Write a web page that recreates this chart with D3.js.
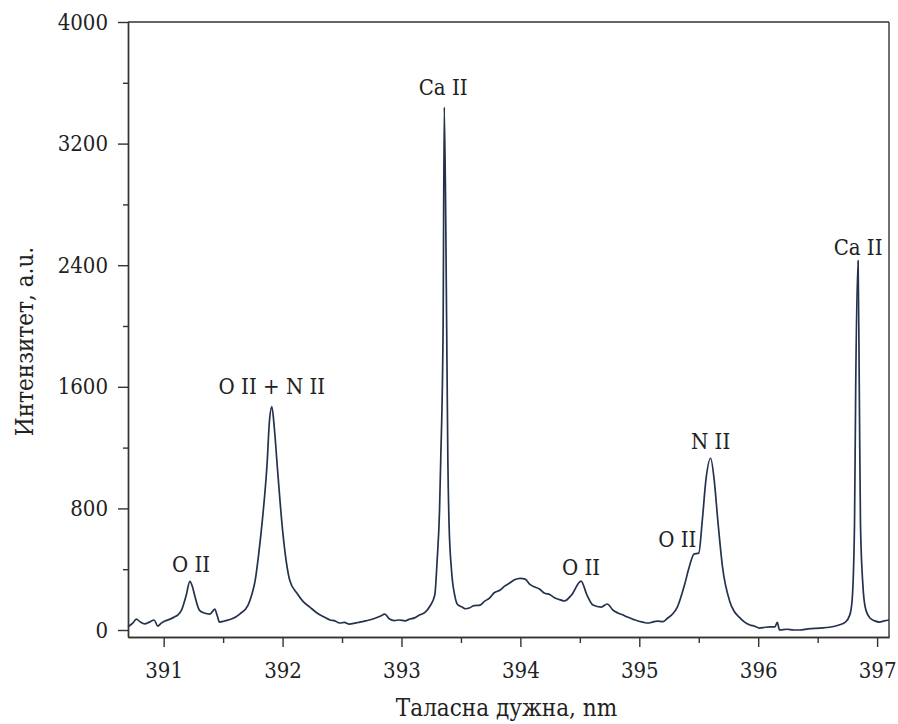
<!DOCTYPE html>
<html>
<head>
<meta charset="utf-8">
<script src="https://cdn.jsdelivr.net/npm/d3@7"></script>
<style>
  body { margin: 0; background: #fff; }
</style>
</head>
<body>
<div id="chart"></div>
<script>
/**
 * Spectrum data
 */
var wavelength = [
  390.70, 390.74, 390.77, 390.80, 390.84, 390.88, 390.92, 390.95, 390.98, 391.01,
  391.05, 391.09, 391.12, 391.15, 391.19, 391.22, 391.24, 391.26, 391.30, 391.34,
  391.39, 391.43, 391.45, 391.47, 391.51, 391.57, 391.64, 391.71, 391.74, 391.77,
  391.80, 391.83, 391.87, 391.89, 391.91, 391.93, 391.96, 392.00, 392.06, 392.12,
  392.17, 392.23, 392.29, 392.35, 392.40, 392.44, 392.48, 392.52, 392.56, 392.61,
  392.65, 392.70, 392.76, 392.82, 392.86, 392.90, 392.94, 392.98, 393.03, 393.07,
  393.11, 393.15, 393.20, 393.24, 393.28, 393.30, 393.32, 393.33, 393.35, 393.36,
  393.38, 393.39, 393.40, 393.42, 393.45, 393.47, 393.51, 393.54, 393.57, 393.61,
  393.66, 393.70, 393.74, 393.78, 393.83, 393.87, 393.91, 393.95, 394.00, 394.04,
  394.08, 394.12, 394.16, 394.20, 394.25, 394.29, 394.33, 394.37, 394.43, 394.51,
  394.56, 394.61, 394.68, 394.73, 394.78, 394.82, 394.86, 394.90, 394.95, 394.99,
  395.03, 395.07, 395.11, 395.15, 395.20, 395.24, 395.28, 395.32, 395.38, 395.42,
  395.46, 395.50, 395.53, 395.56, 395.60, 395.63, 395.66, 395.70, 395.76, 395.80,
  395.84, 395.88, 395.93, 395.97, 396.01, 396.06, 396.10, 396.14, 396.16, 396.18,
  396.24, 396.30, 396.35, 396.42, 396.52, 396.60, 396.68, 396.73, 396.77, 396.79,
  396.81, 396.82, 396.84, 396.85, 396.86, 396.88, 396.90, 396.94, 396.98, 397.02,
  397.06, 397.10
];
var intensity = [
  22, 45, 72, 55, 40, 52, 66, 26, 45, 59,
  70, 85, 100, 131, 230, 320, 290, 230, 131, 112,
  105, 138, 95, 52, 59, 72, 105, 164, 230, 328,
  506, 723, 1097, 1380, 1470, 1334, 1031, 657, 328, 243,
  190, 150, 112, 85, 66, 60, 46, 50, 39, 45,
  52, 60, 72, 90, 105, 72, 62, 66, 60, 72,
  80, 98, 118, 158, 230, 460, 788, 1117, 1990, 3440,
  1990, 1117, 700, 400, 220, 170, 151, 140, 145, 160,
  164, 190, 210, 245, 263, 290, 309, 330, 340, 335,
  300, 283, 270, 243, 232, 210, 200, 191, 230, 322,
  230, 164, 151, 171, 130, 112, 100, 85, 70, 59,
  52, 46, 52, 59, 55, 79, 105, 151, 296, 414,
  500, 506, 723, 986, 1130, 986, 723, 414, 190, 120,
  85, 55, 33, 25, 13, 18, 20, 20, 50, 0,
  5, 0, 0, 8, 13, 18, 33, 50, 98, 197,
  700, 1600, 2430, 1600, 700, 300, 150, 79, 60, 52,
  60, 66
];

var xMajor = [391, 392, 393, 394, 395, 396, 397];
var xMinor = [391.5, 392.5, 393.5, 394.5, 395.5, 396.5];
var yMajor = [0, 800, 1600, 2400, 3200, 4000];
var yMinor = [400, 1200, 2000, 2800, 3600];

var peakLabels = ['O II', 'O II + N II', 'Ca II', 'O II', 'O II', 'N II', 'Ca II'];
var peakX = [391.23, 391.91, 393.35, 394.51, 395.32, 395.60, 396.84];
var peakY = [380, 1550, 3520, 360, 545, 1190, 2470];

/**
 * Settings
 */
var W = 898, H = 724;
var margin = {top: 22, right: 9, bottom: 87, left: 128};
var width = W - margin.left - margin.right,
  height = H - margin.top - margin.bottom;
var serif = '"DejaVu Serif Condensed", "DejaVu Serif"';

var x = d3.scaleLinear().domain([390.7, 397.1]).range([0, width]);
var y = d3.scaleLinear().domain([-46, 4000]).range([height, 0]);

var svg = d3.select('#chart').append('svg')
  .attr('width', W)
  .attr('height', H)
  .append('g')
  .attr('transform', 'translate(' + margin.left + ',' + margin.top + ')');

// Frame on top and right
svg.append('line')
  .attr('x1', 0).attr('x2', width).attr('y1', 0).attr('y2', 0)
  .attr('stroke', '#333').attr('stroke-width', 1.4);
svg.append('line')
  .attr('x1', width).attr('x2', width).attr('y1', 0).attr('y2', height)
  .attr('stroke', '#333').attr('stroke-width', 1.4);

// Axes
svg.append('g')
  .call(d3.axisLeft(y).tickValues(yMajor).tickSize(10).tickSizeOuter(0).tickPadding(10)
    .tickFormat(d3.format('d')));
svg.append('g')
  .call(d3.axisLeft(y).tickValues(yMinor).tickSize(5).tickSizeOuter(0).tickFormat(''));
svg.append('g')
  .attr('transform', 'translate(0,' + height + ')')
  .call(d3.axisBottom(x).tickValues(xMajor).tickSize(10).tickSizeOuter(0).tickPadding(15)
    .tickFormat(d3.format('d')));
svg.append('g')
  .attr('transform', 'translate(0,' + height + ')')
  .call(d3.axisBottom(x).tickValues(xMinor).tickSize(6).tickSizeOuter(0).tickFormat(''));

svg.selectAll('.domain, .tick line')
  .attr('stroke', '#333')
  .attr('stroke-width', 1.4);

// Spectrum line
var points = wavelength.map(function (d, i) {
  return [d, intensity[i]];
});
var line = d3.line()
  .x(function (d) { return x(d[0]); })
  .y(function (d) { return y(d[1]); })
  .curve(d3.curveMonotoneX);

svg.append('path')
  .datum(points)
  .attr('fill', 'none')
  .attr('stroke', '#25324d')
  .attr('stroke-width', 1.7)
  .attr('stroke-linejoin', 'round')
  .attr('d', line);

// Peak labels
svg.selectAll('.peak')
  .data(peakLabels)
  .enter().append('text')
  .attr('class', 'peak')
  .attr('x', function (d, i) { return x(peakX[i]); })
  .attr('y', function (d, i) { return y(peakY[i]); })
  .attr('text-anchor', 'middle')
  .style('font-size', '22px')
  .text(function (d) { return d; });

// Axis titles
svg.append('text')
  .attr('x', width / 2 - 2)
  .attr('y', height + 79)
  .attr('text-anchor', 'middle')
  .style('font-size', '24px')
  .text('Таласна дужна, nm');

svg.append('text')
  .attr('transform', 'translate(-95,' + (height / 2 + 12) + ') rotate(-90)')
  .attr('text-anchor', 'middle')
  .style('font-size', '24px')
  .text('Интензитет, a.u.');

// Serif font on all texts
svg.selectAll('g').attr('font-family', null);
svg.selectAll('.tick text').style('font-size', '22px');
svg.selectAll('text')
  .style('font-family', serif)
  .attr('fill', '#222');
</script>
</body>
</html>
